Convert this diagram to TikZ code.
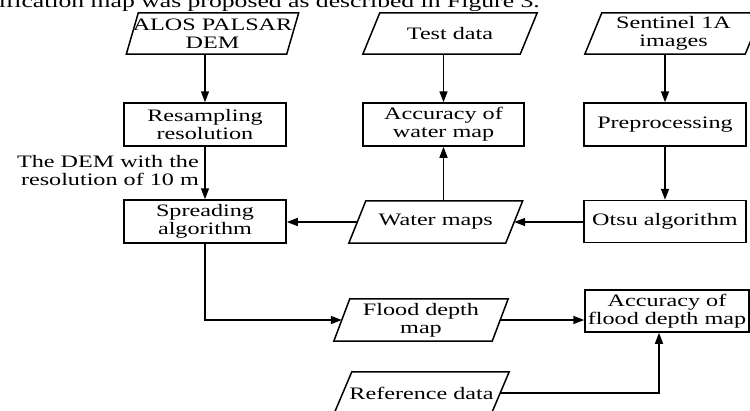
\documentclass[tikz,border=0pt]{standalone}
\usepackage{fontspec}
\setmainfont{Liberation Serif}[FakeStretch=1.38]
\usetikzlibrary{arrows.meta}
\newcommand\paraoutline[2]{\draw[outline] ([xshift=-#2]#1.south west) -- ([xshift=#2]#1.north west) -- ([xshift=#2]#1.north east) -- ([xshift=-#2]#1.south east) -- cycle;}
\begin{document}
\begin{tikzpicture}[x=1pt,y=-1pt,
  every node/.style={font=\fontsize{17.5}{18}\selectfont, inner sep=0pt, align=center},
  box/.style={draw, line width=1.5pt, rectangle, minimum width=162pt, minimum height=43pt},
  paranode/.style={rectangle, minimum width=157pt, minimum height=41pt},
  outline/.style={line width=1.5pt, line join=miter},
  arr/.style={line width=1.5pt, -{Triangle[length=11pt,width=8pt]}},
  captext/.style={font=\fontsize{18.6}{20}\selectfont}
]
\useasboundingbox (0,0) rectangle (750,410);
\clip (0,0) rectangle (750,410);

% caption line (cut off at top)
\node[captext, anchor=base east] (cap) at (540,7) {ification map was proposed as described in Figure 3.};

% input parallelograms
\node[paranode, minimum width=160pt] (alos) at (212.5,33.5) {ALOS PALSAR\\DEM};
\node[paranode] (test) at (450,33.5) {Test data};
\node[paranode, minimum width=160pt] (sent) at (673.5,33.5) {Sentinel 1A\\images};
\node[paranode, minimum width=156.5pt, minimum height=42pt] (water) at (435.75,222) {Water maps};
\node[paranode, minimum width=158pt, minimum height=42pt] (flood) at (421,320) {Flood depth\\map};
\node[paranode, minimum width=157pt, minimum height=42pt] (ref) at (421.5,393) {Reference data};
\paraoutline{alos}{6pt}
\paraoutline{test}{8.5pt}
\paraoutline{sent}{8.5pt}
\paraoutline{water}{8.5pt}
\paraoutline{flood}{8pt}
\paraoutline{ref}{9pt}

% process boxes
\node[box] (resamp) at (205,124.5) {Resampling\\resolution};
\node[box, minimum width=161pt] (accw) at (443.5,124.5) {Accuracy of\\water map};
\node[box] (prep) at (665,124.5) {Preprocessing};
\node[box] (spread) at (205,221.5) {Spreading\\algorithm};
\node[box, minimum height=42pt] (otsu) at (665,221.5) {Otsu algorithm};
\node[box, minimum width=164pt, minimum height=42pt] (accf) at (667,311) {Accuracy of\\flood depth map};

% label
\node[anchor=east, align=right] (lbl) at (199,171) {The DEM with the\\resolution of 10 m};

% connectors
\draw[arr] (alos.south -| resamp.north) -- (resamp.north);
\draw[arr] (resamp.south) -- (spread.north);
\draw[arr] (test.south -| accw.north) -- (accw.north);
\draw[arr] (water.north -| accw.south) -- (accw.south);
\draw[arr] (sent.south -| prep.north) -- (prep.north);
\draw[arr] (prep.south) -- (otsu.north);
\draw[arr] (otsu.west |- water.east) -- (water.east);
\draw[arr] (water.west) -- (spread.east |- water.west);
\draw[arr] (spread.south) |- (flood.west);
\draw[arr] (flood.east) -- (flood.east -| accf.west);
\draw[arr] (ref.east) -| ([xshift=-8pt]accf.south);
\end{tikzpicture}
\end{document}
